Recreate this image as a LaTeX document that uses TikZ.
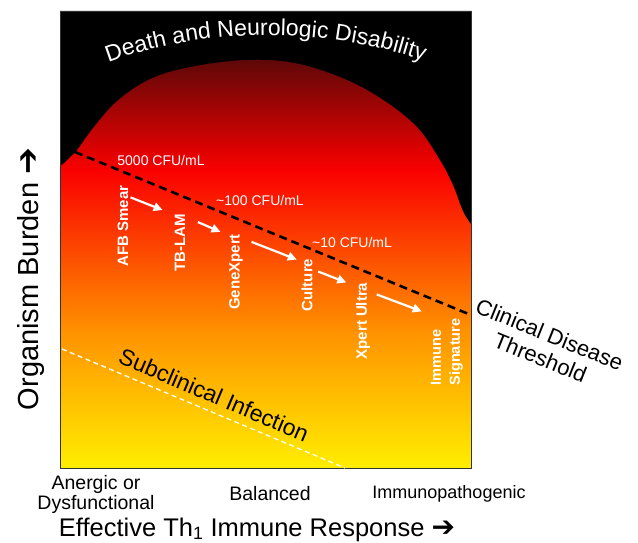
\documentclass[tikz,border=0pt]{standalone}
\usepackage{fontspec}
\setmainfont{Liberation Sans}
\newfontfamily\arrowfont{DejaVu Sans}
\usepackage{xcolor}
\usetikzlibrary{positioning,calc,arrows.meta,decorations.text}

\definecolor{domedark}{RGB}{95,8,8}
\definecolor{burdenred}{RGB}{250,0,0}
\definecolor{burdenorange}{RGB}{255,145,0}
\definecolor{burdenyellow}{RGB}{255,238,0}

\begin{document}
\begin{tikzpicture}[x=1pt, y=-1pt,
    test/.style={text=white, font=\bfseries\fontsize{15}{17}\selectfont, rotate=90, inner sep=0pt},
    cfu/.style={text=white, font=\fontsize{14}{16}\selectfont, inner sep=0pt},
    tick/.style={font=\fontsize{19.5}{19.5}\selectfont, align=center, inner sep=0pt},
    arr/.style={white, line width=2.2pt, -{Triangle[length=9pt,width=8.5pt]}}]
    \useasboundingbox (0,0) rectangle (638,543);

    % Organism burden gradient
    \fill[domedark] (60,11) rectangle (471,60.5);
    \shade[top color=domedark, bottom color=burdenred] (60,60) rectangle (471,170.5);
    \shade[top color=burdenred, bottom color=burdenorange] (60,170) rectangle (471,330.5);
    \shade[top color=burdenorange, bottom color=burdenyellow] (60,330) rectangle (471,468);

    % Death zone - black dome
    \fill[black] (60,11) -- (60,166) -- plot[smooth, tension=0.6] coordinates {(64,163) (70,157) (77,150) (93,128) (117,101) (150,79) (190,67) (245,60) (295,63) (345,79) (385,101) (418,128) (440,160) (453,185) (463,211) (471,224)} -- (471,11) -- cycle;
    \draw[black!80, line width=0.8pt] (60,11) rectangle (471,468);

    \path[decorate, decoration={text along path, text align=center,
        text={|\color{white}\fontsize{23}{23}\selectfont|Death and Neurologic Disability}}]
        (90,70) .. controls (195,24) and (335,24) .. (442,68);

    % Thresholds - dashed
    \coordinate (clinL) at (75,152);
    \coordinate (clinR) at (471,315);
    \draw[line width=2.6pt, dash pattern=on 8pt off 5pt] (clinL) -- (clinR);
    \coordinate (subL) at (62,349);
    \coordinate (subR) at (345,468);
    \draw[white, line width=1.3pt, dash pattern=on 5pt off 3.5pt] (subL) -- (subR);

    \node[cfu] (cfu5000) at (161,160) {5000 CFU/mL};
    \node[cfu] (cfu100) at (260,200) {\textasciitilde100 CFU/mL};
    \node[cfu] (cfu10) at (352,242) {\textasciitilde10 CFU/mL};

    \node[font=\fontsize{22}{25}\selectfont, rotate=-22, align=center, inner sep=0pt] (clinical) at (545,346) {Clinical Disease\\Threshold};
    \node[font=\fontsize{23}{25}\selectfont, rotate=-23, inner sep=0pt] (subclin) at (214,395) {Subclinical Infection};

    % Diagnostic tests
    \node[test] (afb) at (123,226) {AFB Smear};
    \node[test] (tblam) at (180,243) {TB-LAM};
    \node[test] (genex) at (236,272) {GeneXpert};
    \node[test] (culture) at (307,285) {Culture};
    \node[test] (ultra) at (363,321) {Xpert Ultra};
    \node[test, font=\bfseries\fontsize{14.5}{19}\selectfont, align=left] (immune) at (447,352) {Immune\\Signature};

    \draw[arr] ($(afb.south east)+(2,12)$) -- ($(tblam.north east)+(-12,-4)$);
    \draw[arr] ($(tblam.south east)+(12.5,8)$) -- ($(genex.north east)+(-8.5,-2)$);
    \draw[arr] ($(genex.south east)+(8.5,8)$) -- ($(culture.north east)+(-4.5,1)$);
    \draw[arr] ($(culture.south east)+(5.5,13)$) -- ($(ultra.north east)+(-9.5,0)$);
    \draw[arr] ($(ultra.south east)+(6.5,12)$) -- ($(immune.north east)+(-9,-7)$);

    % Axes
    \node[rotate=90, anchor=base, font=\fontsize{29}{29}\selectfont, inner sep=0pt] (burden) at (38,279) {Organism Burden {\arrowfont\bfseries\fontsize{32}{32}\selectfont ➔}};
    \node[tick] (anergic) at (96,494.5) {Anergic or\\Dysfunctional};
    \node[tick, anchor=base] (balanced) at (270,500) {Balanced};
    \node[tick, anchor=base, font=\fontsize{18}{18}\selectfont] (immuno) at (449,498) {Immunopathogenic};
    \node[anchor=base, font=\fontsize{25.5}{25.5}\selectfont, inner sep=0pt] (th1) at (257,536) {Effective Th\textsubscript{1} Immune Response {\arrowfont\bfseries\fontsize{28}{28}\selectfont ➔}};
\end{tikzpicture}
\end{document}
